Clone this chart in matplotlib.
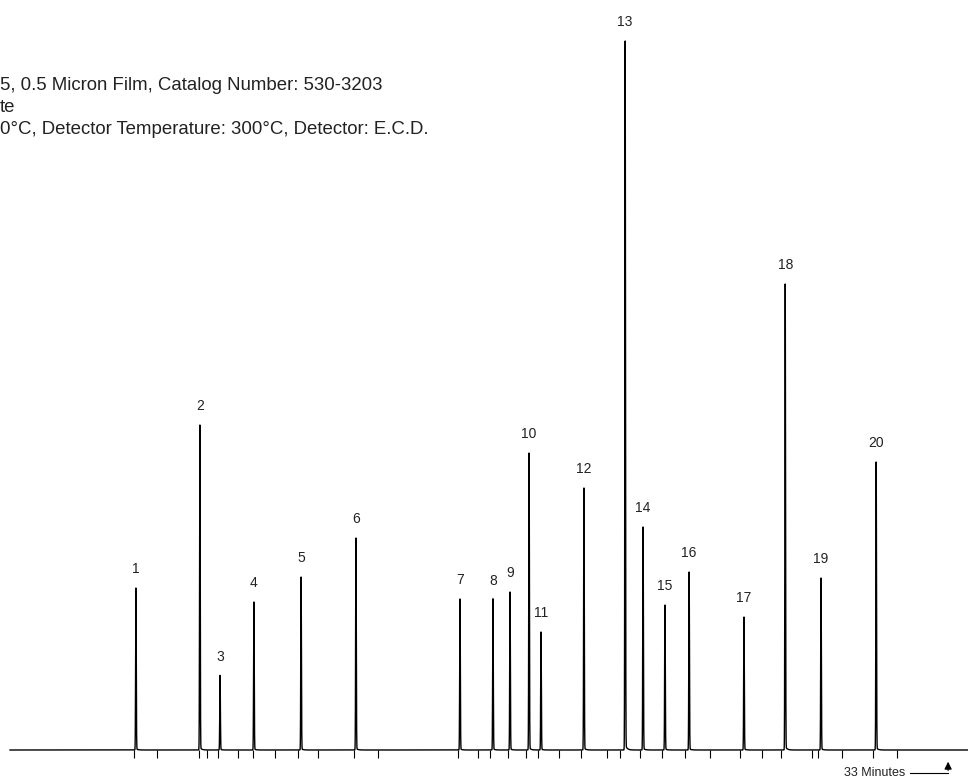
import matplotlib
matplotlib.use("AGG")
import numpy as np
import matplotlib.pyplot as plt

plt.rcParams['font.family'] = ['Liberation Sans', 'DejaVu Sans']

### peak table (retention time in minutes, detector response) ###
peak_labels = [str(i) for i in range(1, 21)]
peak_rt = [4.43, 6.68, 7.39, 8.58, 10.24, 12.17, 15.83, 16.99, 17.59, 18.26,
           18.68, 20.19, 21.64, 22.27, 23.04, 23.89, 25.82, 27.27, 28.53, 30.47]
peak_height = [162, 325, 74, 148, 173, 212, 151, 150, 158, 297,
               118, 262, 709, 223, 145, 178, 133, 466, 172, 288]

### event marks under the baseline ###
tick_times = [4.36, 5.17, 6.65, 6.93, 7.32, 8.02, 8.55, 9.32, 10.13, 10.84,
              12.10, 12.95, 15.76, 16.46, 16.89, 17.52, 18.15, 18.58, 19.31, 20.09,
              21.00, 21.46, 22.16, 22.94, 23.75, 24.63, 25.68, 26.46, 27.12, 28.22,
              28.43, 29.27, 30.36, 31.21]

header_lines = ["5, 0.5 Micron Film, Catalog Number: 530-3203",
                "te",
                "0°C, Detector Temperature: 300°C, Detector: E.C.D."]

### build trace ###
t = np.arange(0.0, 33.7, 0.002)
sig = np.zeros_like(t)
for rt, h in zip(peak_rt, peak_height):
    sig += h * np.exp(-0.5 * ((t - rt) / 0.011) ** 2)
    tail = t > rt
    sig[tail] += 0.008 * h * np.exp(-(t[tail] - rt) / 0.06)

fig = plt.figure(figsize=(9.68, 7.79), dpi=100)
ax = fig.add_axes([0, 0, 1, 1])
ax.plot(t, sig, color="black", lw=1.0)
ax.vlines(tick_times, -8, 0, color="black", lw=0.8)

for lab, rt, h in zip(peak_labels, peak_rt, peak_height):
    ax.text(rt, h + 19, lab, ha="center", va="center", fontsize=10, color="#222222")

# 33 minutes marker
ax.plot([31.66, 33.0], [-23, -23], color="black", lw=0.8)
ax.annotate("", xy=(33.0, -9), xytext=(33.0, -23.4),
            arrowprops=dict(arrowstyle="-|>", lw=0.8, color="black", mutation_scale=11))
ax.text(31.49, -23, "33 Minutes", ha="right", va="center", fontsize=9, color="#222222")

for i, line in enumerate(header_lines):
    fig.text(0.0, 1 - (85 + 22 * i) / 779.0, line, ha="left", va="center",
             fontsize=13.4, color="#222222")

ax.set_xlim(-0.352, 33.70)
ax.set_ylim(-29, 750)
ax.axis("off")

fig.savefig("out.png", dpi=100)
